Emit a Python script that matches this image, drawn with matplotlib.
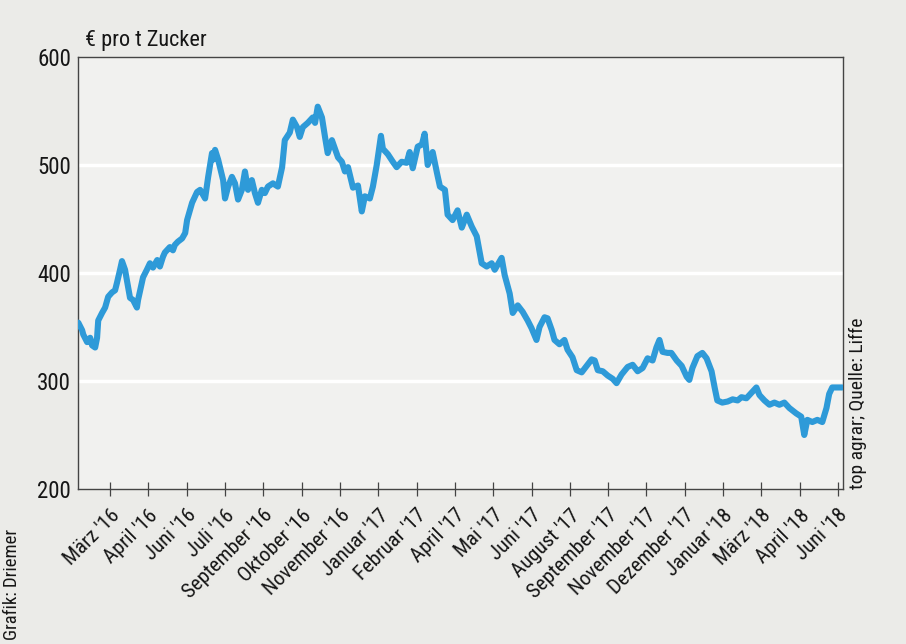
import matplotlib
matplotlib.use("Agg")
import matplotlib.pyplot as plt
from matplotlib import font_manager

tick_labels = ["März '16", "April '16", "Juni '16", "Juli '16", "September '16",
               "Oktober '16", "November '16", "Januar '17", "Februar '17", "April '17",
               "Mai '17", "Juni '17", "August '17", "September '17", "November '17",
               "Dezember '17", "Januar '18", "März '18", "April '18", "Juni '18"]

# position on the tick scale (0 = first labelled tick)
pos = [-0.83, -0.73, -0.70, -0.60, -0.52, -0.47, -0.39, -0.34, -0.31, -0.21, -0.13, -0.05,
       0.05, 0.13, 0.18, 0.26, 0.31, 0.39, 0.47, 0.52, 0.60, 0.70, 0.73, 0.83, 0.86, 0.96,
       1.04, 1.12, 1.23, 1.30, 1.38, 1.43, 1.56, 1.64, 1.69, 1.77, 1.88, 1.96, 2.01, 2.14,
       2.27, 2.35, 2.48, 2.56, 2.66, 2.69, 2.74, 2.82, 2.95, 3.00, 3.08, 3.18, 3.26, 3.34,
       3.44, 3.52, 3.60, 3.70, 3.78, 3.86, 3.96, 4.04, 4.12, 4.25, 4.38, 4.49, 4.56, 4.69,
       4.77, 4.88, 4.95, 5.03, 5.16, 5.29, 5.35, 5.42, 5.53, 5.61, 5.68, 5.79, 5.87, 5.95,
       6.05, 6.13, 6.21, 6.34, 6.47, 6.57, 6.65, 6.78, 6.86, 6.96, 7.07, 7.12, 7.25, 7.38,
       7.48, 7.61, 7.74, 7.82, 7.90, 8.03, 8.14, 8.21, 8.29, 8.42, 8.53, 8.61, 8.74, 8.81,
       8.94, 9.07, 9.18, 9.31, 9.44, 9.57, 9.70, 9.83, 9.96, 10.04, 10.22, 10.30, 10.43,
       10.51, 10.64, 10.77, 10.90, 11.00, 11.13, 11.21, 11.34, 11.42, 11.53, 11.60, 11.73,
       11.86, 11.94, 12.07, 12.18, 12.31, 12.44, 12.57, 12.65, 12.73, 12.86, 12.99, 13.12,
       13.22, 13.35, 13.51, 13.64, 13.77, 13.90, 14.03, 14.16, 14.26, 14.34, 14.42, 14.55,
       14.65, 14.79, 14.92, 15.05, 15.12, 15.20, 15.33, 15.46, 15.57, 15.70, 15.78, 15.85,
       15.98, 16.12, 16.25, 16.38, 16.48, 16.61, 16.74, 16.87, 16.95, 17.08, 17.21, 17.34,
       17.47, 17.60, 17.73, 17.91, 18.04, 18.12, 18.20, 18.33, 18.46, 18.59, 18.70, 18.77,
       18.85, 18.98, 19.11]

price = [354, 347, 343, 336, 340, 333, 331, 340, 356, 363, 368, 378,
         382, 384, 391, 403, 411, 403, 387, 377, 375, 368, 375, 391, 396, 403,
         409, 405, 412, 406, 415, 419, 424, 421, 426, 429, 432, 437, 449, 465,
         475, 477, 469, 489, 511, 505, 514, 505, 486, 469, 480, 489, 483, 468,
         477, 494, 477, 486, 474, 465, 477, 474, 480, 483, 480, 498, 523, 530,
         542, 535, 526, 535, 539, 544, 539, 554, 544, 526, 511, 523, 515, 507,
         503, 494, 498, 479, 481, 457, 471, 469, 480, 500, 527, 515, 510, 503,
         498, 503, 502, 512, 497, 517, 519, 529, 500, 512, 493, 480, 477, 454,
         449, 458, 442, 454, 443, 434, 409, 406, 409, 403, 414, 398, 381,
         363, 370, 364, 356, 349, 338, 350, 359, 358, 347, 338, 334,
         338, 329, 322, 310, 308, 314, 320, 319, 310, 309, 305, 302,
         298, 306, 313, 315, 309, 312, 321, 319, 331, 338, 327, 326,
         326, 319, 314, 304, 301, 312, 323, 326, 321, 309, 294, 282,
         280, 281, 283, 282, 285, 284, 289, 294, 287, 282, 278, 280,
         278, 280, 275, 270, 267, 250, 264, 262, 264, 262, 275, 288,
         294, 294, 294]

y_ticks = [200, 300, 400, 500, 600]
unit_label = "€ pro t Zucker"
source_label = "top agrar; Quelle: Liffe"
credit_label = "Grafik: Driemer"

avail = {f.name for f in font_manager.fontManager.ttflist}
narrow = [f for f in ["Roboto Condensed", "Liberation Sans Narrow", "Liberation Sans", "DejaVu Sans"] if f in avail]
plt.rcParams["font.family"] = narrow

BLUE = "#2e9ad8"
PAPER = "#ebebe8"
PANEL = "#f1f1ef"
INK = "#161616"

fig = plt.figure(figsize=(9.06, 6.44), dpi=100, facecolor=PAPER)
ax = fig.add_axes([0.086, 0.2407, 0.844, 0.6708], facecolor=PANEL)

for v in y_ticks[1:-1]:
    ax.axhline(v, color="white", lw=2.5, zorder=1)

ax.plot(pos, price, color=BLUE, lw=4.4, solid_joinstyle="round", solid_capstyle="round", zorder=3)

ax.set_xlim(-0.84, 19.12)
ax.set_ylim(200, 600)
ax.set_yticks(y_ticks)
ax.set_yticklabels([str(v) for v in y_ticks], fontsize=16.5, color=INK)
ax.tick_params(axis="y", length=0, pad=5)
ax.set_xticks(range(len(tick_labels)))
ax.set_xticklabels(tick_labels, rotation=45, ha="right", rotation_mode="anchor",
                   fontsize=15, color=INK)
ax.tick_params(axis="x", direction="inout", length=10, width=0.9, color="#444444", pad=7)

for s in ax.spines.values():
    s.set_color("#444444")
    s.set_linewidth(1.0)

fig.text(0.094, 0.921, unit_label, fontsize=16, color=INK, ha="left", va="bottom")
fig.text(0.947, 0.24, source_label, fontsize=14, color=INK, rotation=90,
         ha="center", va="bottom")
fig.text(0.013, 0.006, credit_label, fontsize=13.5, color=INK, rotation=90,
         ha="center", va="bottom")

fig.savefig("out.png", dpi=100, facecolor=PAPER)
